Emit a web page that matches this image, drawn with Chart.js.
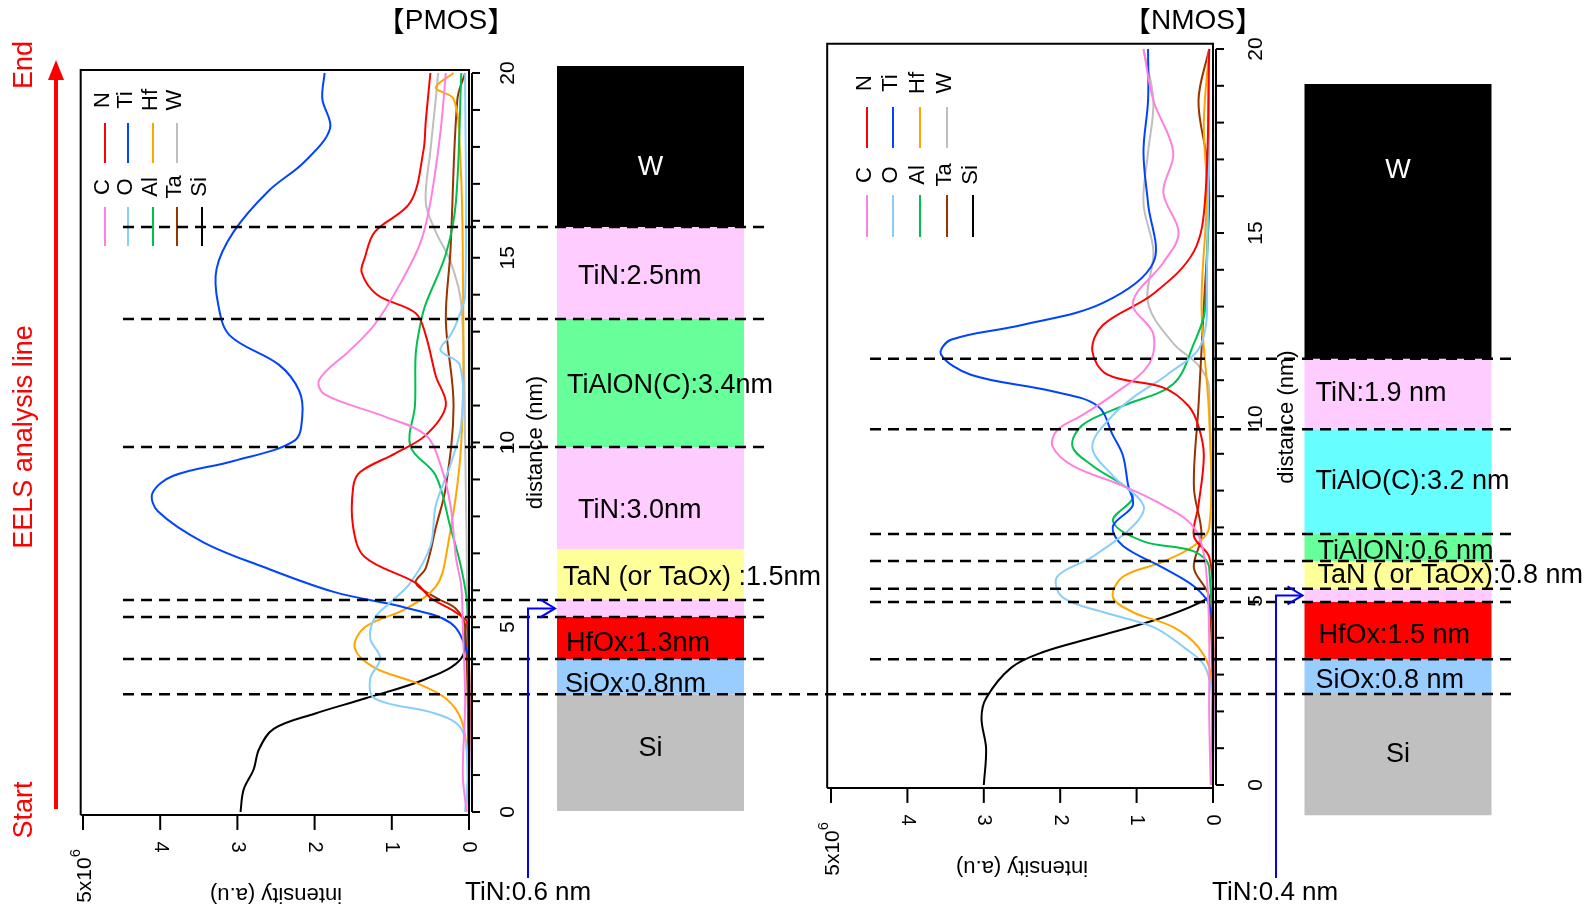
<!DOCTYPE html>
<html>
<head>
<meta charset="utf-8">
<script src="https://cdn.jsdelivr.net/npm/chart.js@4/dist/chart.umd.min.js"></script>
<style>html,body{margin:0;padding:0;background:#fff;overflow:hidden}canvas{display:block}</style>
</head>
<body>
<canvas id="eels" width="1586" height="905"></canvas>
<script>
'use strict';

// --- EELS profiles, PMOS: [distance (nm), intensity (x10^6 a.u.)] ---
const P_C  = [[20,0.3],[18.4,0.37],[16.5,0.5],[15.4,0.63],[14.3,0.89],[13.2,1.22],[12.5,1.54],[11.7,1.94],[11.3,1.87],[10.7,1.09],[10.2,0.56],[9.4,0.37],[8.3,0.24],[6.9,0.17],[6.1,0.1],[5,0.08],[3,0.05],[1,0.08],[0,0.03]];
const P_N  = [[20,0.5],[18.7,0.56],[17.9,0.59],[16.5,0.76],[15.7,1.22],[15,1.35],[14.6,1.39],[14,1.19],[13.5,0.69],[12.9,0.56],[11.8,0.43],[11,0.3],[10.2,0.56],[9.7,0.96],[9.2,1.41],[8.8,1.5],[7.7,1.5],[6.9,1.35],[6.2,0.69],[5.8,0.5],[5.4,0.17],[5.1,0.02],[0,0]];
const P_O  = [[20,0.05],[14,0.05],[13.3,0.15],[12.9,0.24],[12.5,0.37],[12.1,0.12],[10.5,0.1],[9.4,0.24],[8.3,0.43],[7.2,0.5],[6.2,0.76],[5.67,1.02],[5.26,1.22],[4.7,1.28],[4.16,1.15],[3.6,1.28],[3.07,1.22],[2.66,0.43],[2.25,0.1],[1.1,0.02],[0,0.05]];
const P_TI = [[20,1.87],[19.3,1.9],[18.5,1.8],[17.6,2.13],[16.8,2.6],[15.7,3.05],[14.7,3.27],[13.75,3.25],[12.9,3.1],[12.1,2.46],[11.4,2.2],[10.7,2.16],[10.05,2.26],[9.5,3.05],[9.1,3.83],[8.63,4.1],[8.14,4.03],[7.3,3.44],[6.63,2.66],[5.95,1.74],[5.53,0.82],[5.12,0.24],[4.44,0.04],[3.9,0],[0,0]];
const P_AL = [[20,0.1],[16.5,0.17],[15.1,0.3],[13.75,0.56],[13.2,0.63],[12.4,0.69],[11,0.7],[9.9,0.76],[9.1,0.43],[7.7,0.24],[6.6,0.1],[5.5,0.02],[0,0]];
const P_HF = [[20,0.2],[19.6,0.43],[19.3,0.2],[18,0.12],[15,0.08],[10,0.1],[6.9,0.3],[6.1,0.43],[5.5,0.82],[5,1.35],[4.44,1.48],[3.9,1.22],[3.5,0.69],[3.07,0.3],[2.5,0.1],[1.5,0.02],[0,0]];
const P_TA = [[20,0.05],[19.3,0.15],[15.2,0.24],[13.3,0.3],[11,0.2],[8.8,0.3],[7.7,0.43],[6.6,0.56],[6.2,0.69],[5.8,0.43],[5.5,0.17],[5,0.05],[0,0]];
const P_W  = [[20,0.4],[19.3,0.43],[17.9,0.5],[16.5,0.56],[15.7,0.43],[14.9,0.24],[13.75,0.1],[10,0.05],[5,0.02],[0,0]];
const P_SI = [[20,0],[5.5,0],[5,0.04],[4.16,0.1],[3.6,0.56],[3.07,1.35],[2.66,2],[2.25,2.53],[1.7,2.72],[1.15,2.79],[0.6,2.92],[0,2.96]];

// --- EELS profiles, NMOS ---
const N_C  = [[20,0.91],[18.6,0.78],[17.2,0.52],[16.1,0.65],[15,0.45],[14.2,0.65],[13.1,1.05],[12.25,0.78],[11.4,0.85],[10.6,1.31],[10.05,1.71],[9.64,2.04],[9.2,2.1],[8.68,1.84],[8.13,1.18],[7.6,0.65],[7,0.25],[6,0.1],[4,0.05],[2,0.05],[0,0.03]];
const N_N  = [[20,0.05],[16,0.1],[14.5,0.25],[13.35,0.78],[12.5,1.44],[11.8,1.58],[11.15,1.38],[10.8,0.65],[10.3,0.32],[9.75,0.19],[8.96,0.12],[7.6,0.19],[6.76,0.25],[6.2,0.05],[5,0],[0,0]];
const N_O  = [[20,0.05],[14,0.08],[12,0.15],[11.15,0.6],[10.6,1],[10.05,1.31],[9.2,1.58],[8.4,1.31],[7.6,0.91],[7.03,1.05],[6.2,1.58],[5.66,2.04],[5.1,1.97],[4.7,1.44],[4.29,0.78],[3.74,0.38],[3.2,0.1],[2,0],[0,0.02]];
const N_TI = [[20,0.85],[18.6,0.85],[17.2,0.91],[15.8,0.85],[14.2,0.78],[13.1,1.44],[12.5,2.5],[12.1,3.43],[11.7,3.56],[11.15,3.17],[10.7,2.1],[10.3,1.51],[9.5,1.31],[8.96,1.18],[8.13,1.11],[7.6,1.05],[7.03,1.31],[6.5,1.18],[5.9,0.65],[5.4,0.25],[4.9,0.05],[4,0],[0,0]];
const N_AL = [[20,0.05],[13,0.1],[12,0.25],[10.9,0.52],[10.3,1.18],[9.78,1.71],[9.2,1.84],[8.68,1.58],[7.86,1.05],[7.17,1.31],[6.62,0.91],[6.35,0.25],[5.9,0.05],[0,0]];
const N_HF = [[20,0.05],[18,0.12],[16,0.08],[13,0.15],[10,0.05],[7,0.05],[6.5,0.25],[6.07,0.65],[5.66,1.18],[5.1,1.31],[4.7,1.05],[4.29,0.52],[3.74,0.19],[3,0.03],[0,0]];
const N_TA = [[20,0.05],[18.6,0.19],[17,0.08],[15.8,0.05],[13,0.12],[10.3,0.19],[8.1,0.25],[6.8,0.15],[5.9,0.25],[5.1,0.05],[0,0]];
const N_W  = [[20,0.91],[18.6,0.78],[17.2,0.85],[15.8,0.91],[14.5,0.78],[13.1,0.85],[12,0.52],[11.4,0.19],[10.8,0.05],[0,0]];
const N_SI = [[20,0],[5.4,0],[5.1,0.05],[4.56,0.65],[4,1.58],[3.6,2.24],[3.19,2.64],[2.36,2.97],[1.81,3.03],[0.99,2.97],[0,3]];

const ELEMENTS = ['C', 'N', 'O', 'Ti', 'Al', 'Hf', 'Ta', 'W', 'Si'];

// --- layer stacks (bottom -> top) and their boundaries in nm ---
const P_LAYERS = ['Si', 'SiOx:0.8nm', 'HfOx:1.3nm', '', 'TaN (or TaOx) :1.5nm', 'TiN:3.0nm', 'TiAlON(C):3.4nm', 'TiN:2.5nm', 'W'];
const P_EDGES  = [0.03, 3.19, 4.14, 5.28, 5.74, 7.12, 9.88, 13.34, 15.83, 20.19];
const P_INTERFACES = [3.19, 4.14, 5.28, 5.74, 9.88, 13.34, 15.83];

const N_LAYERS = ['Si', 'SiOx:0.8 nm', 'HfOx:1.5 nm', '', 'TaN ( or TaOx):0.8 nm', 'TiAlON:0.6 nm', 'TiAlO(C):3.2 nm', 'TiN:1.9 nm', 'W'];
const N_EDGES  = [-0.82, 2.47, 3.42, 4.97, 5.33, 6.09, 6.82, 9.67, 11.58, 19.05];
const N_INTERFACES = [2.47, 3.42, 4.97, 5.33, 6.09, 6.82, 9.67, 11.58];

const INTENSITY_TICKS = [0, 1, 2, 3, 4, 5];
const DISTANCE_LABELS = [0, 5, 10, 15, 20];

// --- styles ---
const FONT = '"Liberation Sans", Arial, sans-serif';
const CJK = '"Noto Sans CJK JP", "Noto Sans CJK SC", sans-serif';
const W_PX = 1586, H_PX = 905;
const COLORS = { C: '#ff80e0', N: '#ff0000', O: '#87cefa', Ti: '#0044ff', Al: '#00c050', Hf: '#ffa500', Ta: '#993300', W: '#bebebe', Si: '#000000' };
const FILL = { W: '#000000', TiN: '#ffccff', TiAlON: '#66ff99', TiAlO: '#66ffff', TaN: '#ffff99', HfOx: '#ff0000', SiOx: '#99ccff', Si: '#c0c0c0' };

const PANELS = [
  {
    name: 'PMOS', titleX: 446, xs: 'xP', ys: 'yP', ls: 'xLP',
    curves: { C: P_C, N: P_N, O: P_O, Ti: P_TI, Al: P_AL, Hf: P_HF, Ta: P_TA, W: P_W, Si: P_SI },
    layers: P_LAYERS, edges: P_EDGES, interfaces: P_INTERFACES,
    fills: [FILL.Si, FILL.SiOx, FILL.HfOx, FILL.TiN, FILL.TaN, FILL.TiN, FILL.TiAlON, FILL.TiN, FILL.W],
    labelPos: [[null, -4], [8, 8], [9, 6], null, [6, 3], [21, 13], [10, 3], [21, 3], [null, 21]],
    frame: [5.03, 0, -0.08, 20.08], tickLab: 36, axisLab: 64,
    dashFrom: 123, dashTo: [866, 768, 768, 768, 768, 768, 768],
    legend: { cols: [105, 128, 153, 177, 202], top: [100, 123, 163], bottom: [187, 207, 246] },
    note: 'TiN:0.6 nm', arrowX: 528, noteX: 465
  },
  {
    name: 'NMOS', titleX: 1193, xs: 'xN', ys: 'yN', ls: 'xLN',
    curves: { C: N_C, N: N_N, O: N_O, Ti: N_TI, Al: N_AL, Hf: N_HF, Ta: N_TA, W: N_W, Si: N_SI },
    layers: N_LAYERS, edges: N_EDGES, interfaces: N_INTERFACES,
    fills: [FILL.Si, FILL.SiOx, FILL.HfOx, FILL.TiN, FILL.TaN, FILL.TiAlON, FILL.TiAlO, FILL.TiN, FILL.W],
    labelPos: [[null, 0], [11, 4], [14, 5], null, [13, 1], [13, 4], [11, 0], [11, 0], [null, -51]],
    frame: [5.05, 0, -0.08, 20.14], tickLab: 40, axisLab: 71,
    dashFrom: 870, dashTo: [1512, 1512, 1512, 1512, 1512, 1512, 1512, 1512],
    legend: { cols: [867, 893, 920, 947, 973], top: [83, 107, 148], bottom: [175, 195, 237] },
    note: 'TiN:0.4 nm', arrowX: 1276, noteX: 1212
  }
];

// linear axis that puts value v0 at pixel p0 and v1 at p1 over the full canvas
function fitAxis(axis, v0, p0, v1, p1, size, extra) {
  const k = (p1 - p0) / (v1 - v0);
  const a = v0 - p0 / k, b = v0 + (size - p0) / k;
  return Object.assign({ type: 'linear', axis, display: false, bounds: 'data', offset: false,
           min: Math.min(a, b), max: Math.max(a, b), reverse: axis === 'x' ? k < 0 : k > 0 }, extra || {});
}

// the stack columns only need their two ends as ticks
const endTicks = { afterBuildTicks: s => { s.ticks = [{ value: s.min }, { value: s.max }]; } };

function say(ctx, s, x, y, size, o = {}) {
  ctx.save();
  ctx.translate(x, y);
  if (o.rot) ctx.rotate(o.rot * Math.PI / 180);
  ctx.font = `${size}px ${o.font || FONT}`;
  ctx.fillStyle = o.color || '#000';
  ctx.textAlign = o.align || 'center';
  ctx.textBaseline = 'middle';
  ctx.fillText(s, 0, 0);
  ctx.restore();
}

function seg(ctx, pts, color, width, dash) {
  ctx.save();
  ctx.strokeStyle = color;
  ctx.lineWidth = width;
  ctx.setLineDash(dash || []);
  ctx.beginPath();
  pts.forEach(([x, y], i) => i ? ctx.lineTo(x, y) : ctx.moveTo(x, y));
  ctx.stroke();
  ctx.restore();
}

function sci(ctx, x, y, size) {
  ctx.save();
  ctx.translate(x, y);
  ctx.rotate(-Math.PI / 2);
  ctx.fillStyle = '#000';
  ctx.textBaseline = 'middle';
  ctx.textAlign = 'left';
  ctx.font = `${size}px ${FONT}`;
  const w1 = ctx.measureText('5x10').width;
  ctx.font = `${size * 0.7}px ${FONT}`;
  const w2 = ctx.measureText('6').width;
  const x0 = -(w1 + w2) / 2;
  ctx.font = `${size}px ${FONT}`;
  ctx.fillText('5x10', x0, 0);
  ctx.font = `${size * 0.7}px ${FONT}`;
  ctx.fillText('6', x0 + w1, -size * 0.42);
  ctx.restore();
}

// 【NAME】 with full-width CJK brackets
function title(ctx, name, cx, cy, size) {
  ctx.save();
  ctx.textBaseline = 'middle';
  ctx.textAlign = 'left';
  ctx.fillStyle = '#000';
  ctx.font = `${size}px ${CJK}`;
  const wb = ctx.measureText('【').width;
  ctx.font = `${size}px ${FONT}`;
  const wn = ctx.measureText(name).width;
  const x = cx - (2 * wb + wn) / 2;
  ctx.font = `${size}px ${CJK}`;
  ctx.fillText('【', x, cy);
  ctx.font = `${size}px ${FONT}`;
  ctx.fillText(name, x + wb, cy);
  ctx.font = `${size}px ${CJK}`;
  ctx.fillText('】', x + wb + wn, cy);
  ctx.restore();
}

// --- everything that is not a dataset: frames, axes, stack labels, legend ---
const decor = {
  id: 'decor',
  afterDatasetsDraw(chart) {
    const ctx = chart.ctx;
    PANELS.forEach((p, pi) => {
      const xs = chart.scales[p.xs], ys = chart.scales[p.ys];
      const [fl, fr, fb, ft] = p.frame;
      const L = xs.getPixelForValue(fl), R = xs.getPixelForValue(fr);
      const B = ys.getPixelForValue(fb), T = ys.getPixelForValue(ft);

      // frame
      seg(ctx, [[L, B], [L, T], [R, T], [R, B], [L, B]], '#000', 2);

      // intensity axis (bottom)
      INTENSITY_TICKS.forEach(v => {
        const x = xs.getPixelForValue(v);
        seg(ctx, [[x, B], [x, B + 15]], '#000', 2);
        if (v < 5) say(ctx, String(v), x, B + 32, 20, { rot: 90 });
      });
      sci(ctx, xs.getPixelForValue(5) + 2, B + 61, 21);
      say(ctx, 'intensity (a.u)', xs.getPixelForValue(2.5), B + 79, 22, { rot: 180 });

      // distance axis (right)
      const ax = R + 3;
      seg(ctx, [[ax, ys.getPixelForValue(0)], [ax, ys.getPixelForValue(20)]], '#000', 2);
      for (let d = 0; d <= 20; d++) {
        const y = ys.getPixelForValue(d);
        seg(ctx, [[ax, y], [ax + 8, y]], '#000', 2);
      }
      DISTANCE_LABELS.forEach(d => say(ctx, String(d), ax + p.tickLab, ys.getPixelForValue(d), 21, { rot: -90 }));
      say(ctx, 'distance (nm)', ax + p.axisLab, ys.getPixelForValue(10), 22, { rot: -90 });

      // legend
      const lg = p.legend;
      [['N', 'Ti', 'Hf', 'W'], ['C', 'O', 'Al', 'Ta', 'Si']].forEach((row, ri) => {
        const [ty, y0, y1] = ri ? lg.bottom : lg.top;
        row.forEach((el, ci) => {
          const x = lg.cols[ci];
          say(ctx, el, x - 2, ty, 22, { rot: -90 });
          seg(ctx, [[x, y0], [x, y1]], COLORS[el], 2);
        });
      });

      // layer labels
      const bars = chart.getDatasetMeta(pi * (ELEMENTS.length + 1)).data;
      p.layers.forEach((name, i) => {
        if (!name) return;
        const b = bars[i];
        const [dx, dy] = p.labelPos[i];
        const cy = (b.y + b.base) / 2 + dy;
        if (dx === null) say(ctx, name, b.x, cy, 27, { color: name === 'W' ? '#fff' : '#000' });
        else say(ctx, name, b.x - b.width / 2 + dx, cy, 27, { align: 'left' });
      });

      // interfaces
      p.interfaces.forEach((d, i) => {
        const y = ys.getPixelForValue(d);
        seg(ctx, [[p.dashFrom, y], [p.dashTo[i], y]], '#000', 2.5, [11, 7]);
      });

      // arrow to the thin TiN layer
      const thin = bars[3];
      const ay = (thin.y + thin.base) / 2;
      const tip = thin.x - thin.width / 2 - 2;
      seg(ctx, [[p.arrowX, 878], [p.arrowX, ay], [tip, ay]], '#0000ff', 2);
      seg(ctx, [[tip - 15, ay - 9], [tip, ay], [tip - 15, ay + 9]], '#0000ff', 2);
      say(ctx, p.note, p.noteX, 893, 26, { align: 'left' });

      title(ctx, p.name, p.titleX, 21, 28);
    });

    // analysis direction
    seg(ctx, [[56, 809], [56, 74]], '#ff0000', 4);
    ctx.save();
    ctx.fillStyle = '#ff0000';
    ctx.beginPath();
    ctx.moveTo(56, 60); ctx.lineTo(48, 80); ctx.lineTo(64, 80); ctx.closePath();
    ctx.fill();
    ctx.restore();
    say(ctx, 'End', 25, 65, 27, { rot: -90, color: '#ff0000' });
    say(ctx, 'EELS analysis line', 25, 437, 27, { rot: -90, color: '#ff0000' });
    say(ctx, 'Start', 25, 810, 27, { rot: -90, color: '#ff0000' });
  }
};

const datasets = [];
PANELS.forEach(p => {
  datasets.push({
    type: 'bar', label: p.name, xAxisID: p.ls, yAxisID: p.ys, order: 10,
    data: p.layers.map((_, i) => ({ x: 0, y: [p.edges[i], p.edges[i + 1]] })),
    backgroundColor: p.fills, borderWidth: 0, grouped: false, maxBarThickness: 187
  });
  ELEMENTS.forEach(el => {
    datasets.push({
      label: el, xAxisID: p.xs, yAxisID: p.ys, order: 1,
      data: p.curves[el].map(([d, v]) => ({ x: v, y: d })),
      showLine: true, borderColor: COLORS[el], borderWidth: 2,
      pointRadius: 0, tension: 0.35, fill: false
    });
  });
});

new Chart(document.getElementById('eels'), {
  type: 'scatter',
  data: { datasets },
  options: {
    responsive: false,
    animation: false,
    events: [],
    layout: { padding: 0 },
    plugins: { legend: { display: false }, title: { display: false }, tooltip: { enabled: false } },
    scales: {
      xP: fitAxis('x', 0, 469, 5, 83, W_PX),
      yP: fitAxis('y', 0, 812, 20, 73, H_PX, { stacked: false }),
      xN: fitAxis('x', 0, 1213, 5, 831, W_PX),
      yN: fitAxis('y', 0, 785, 20, 49, H_PX, { stacked: false }),
      xLP: fitAxis('x', 0, 650.5, 1, 750.5, W_PX, endTicks),
      xLN: fitAxis('x', 0, 1398, 1, 1498, W_PX, endTicks)
    }
  },
  plugins: [decor]
});
</script>
</body>
</html>
